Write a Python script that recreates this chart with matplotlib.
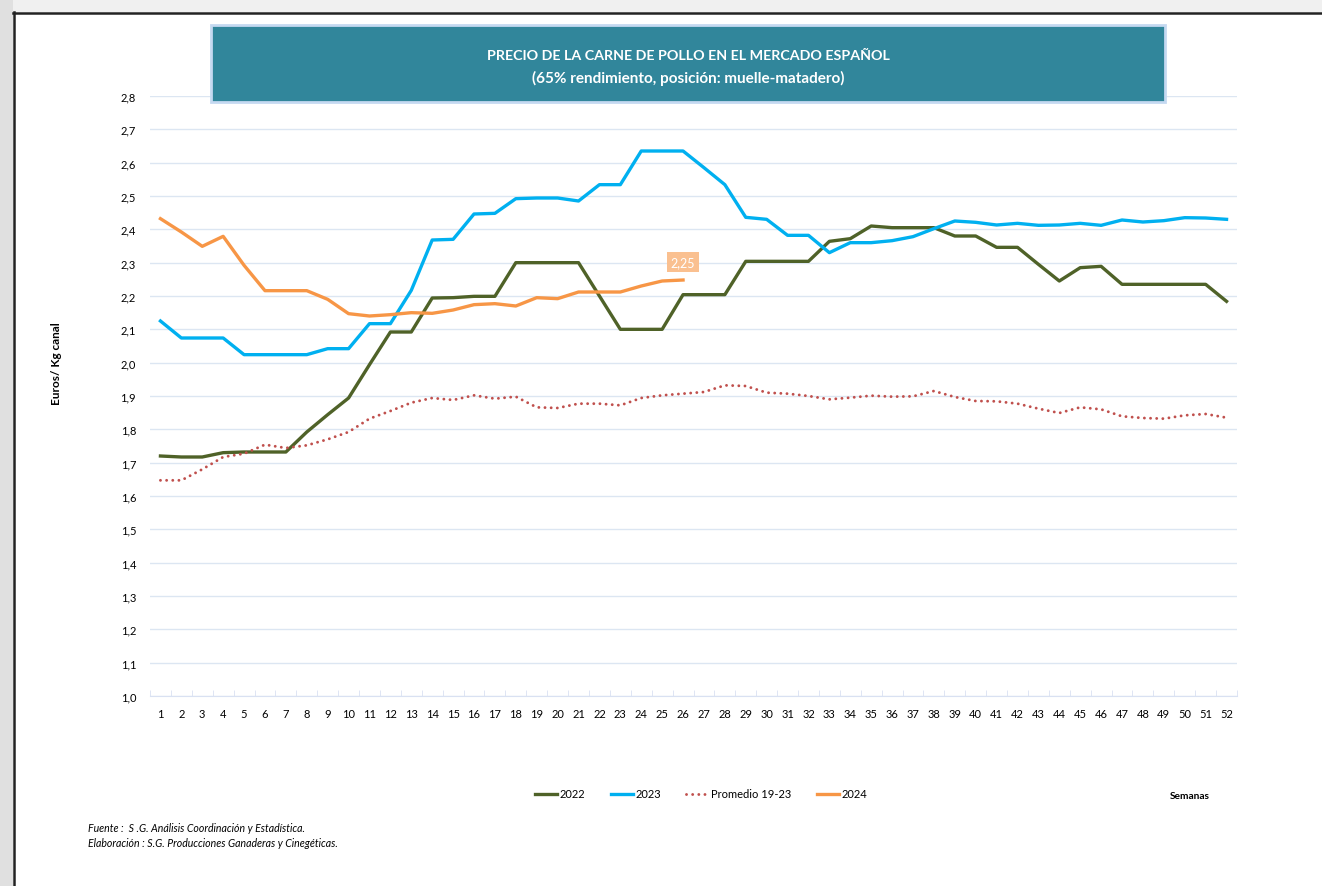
import numpy as np
import matplotlib
matplotlib.use("Agg")
import matplotlib.pyplot as plt
from matplotlib.patches import Rectangle
from matplotlib.lines import Line2D

plt.rcParams['font.family'] = ['Lato', 'DejaVu Sans']

weeks = list(range(1, 53))

p2022 = [1.720, 1.717, 1.717, 1.730, 1.732, 1.732, 1.732, 1.792, 1.844, 1.894,
         1.994, 2.092, 2.092, 2.194, 2.195, 2.199, 2.199, 2.300, 2.300, 2.300,
         2.300, 2.200, 2.100, 2.100, 2.100, 2.204, 2.204, 2.204, 2.304, 2.304,
         2.304, 2.304, 2.364, 2.372, 2.410, 2.405, 2.405, 2.405, 2.380, 2.380,
         2.346, 2.346, 2.295, 2.245, 2.285, 2.289, 2.235, 2.235, 2.235, 2.235,
         2.235, 2.184]

p2023 = [2.125, 2.074, 2.074, 2.074, 2.024, 2.024, 2.024, 2.024, 2.042, 2.042,
         2.117, 2.117, 2.217, 2.368, 2.370, 2.446, 2.448, 2.492, 2.494, 2.494,
         2.485, 2.534, 2.534, 2.635, 2.635, 2.635, 2.585, 2.534, 2.436, 2.430,
         2.382, 2.382, 2.330, 2.360, 2.360, 2.366, 2.378, 2.402, 2.425, 2.421,
         2.413, 2.418, 2.412, 2.413, 2.418, 2.412, 2.428, 2.422, 2.426, 2.435,
         2.434, 2.430]

promedio = [1.647, 1.647, 1.680, 1.717, 1.727, 1.754, 1.744, 1.752, 1.770, 1.792,
            1.832, 1.855, 1.880, 1.894, 1.888, 1.902, 1.892, 1.898, 1.866, 1.864,
            1.877, 1.877, 1.872, 1.894, 1.902, 1.907, 1.912, 1.932, 1.930, 1.910,
            1.907, 1.900, 1.890, 1.895, 1.901, 1.898, 1.899, 1.915, 1.897, 1.885,
            1.884, 1.877, 1.862, 1.849, 1.866, 1.860, 1.839, 1.834, 1.832, 1.842,
            1.846, 1.835]

p2024 = [2.432, 2.392, 2.349, 2.379, 2.292, 2.216, 2.216, 2.216, 2.190, 2.147,
         2.140, 2.144, 2.150, 2.148, 2.158, 2.174, 2.177, 2.170, 2.195, 2.192,
         2.212, 2.212, 2.212, 2.230, 2.245, 2.248]

yticks = np.round(np.arange(1.0, 2.81, 0.1), 1)

W, H = 1322, 887
fig = plt.figure(figsize=(W / 100, H / 100), dpi=100)
fig.patch.set_facecolor('white')

# page frame / grey surroundings
fig.patches.append(Rectangle((0, 1 - 13 / H), 1, 13 / H, transform=fig.transFigure,
                             facecolor='#f0f0f0', edgecolor='none', zorder=-5))
fig.patches.append(Rectangle((0, 0), 13 / W, 1, transform=fig.transFigure,
                             facecolor='#e0e0e0', edgecolor='none', zorder=-5))
fig.lines.append(Line2D([13 / W, 1], [1 - 14 / H, 1 - 14 / H], transform=fig.transFigure,
                        color='#222222', lw=1.8))
fig.lines.append(Line2D([14 / W, 14 / W], [0, 1 - 13 / H], transform=fig.transFigure,
                        color='#222222', lw=1.8))

ax = fig.add_axes([150 / W, 1 - 697 / H, (1237 - 150) / W, (697 - 97) / H])

ax.plot(weeks, p2022, color='#4f6228', lw=2.4, label='2022', solid_joinstyle='round')
ax.plot(weeks, p2023, color='#00b0f0', lw=2.4, label='2023', solid_joinstyle='round')
ax.plot(weeks, promedio, color='#c0504d', lw=2.1, ls=(0, (0.01, 2.1)),
        dash_capstyle='round', label='Promedio 19-23')
ax.plot(weeks[:len(p2024)], p2024, color='#f79646', lw=2.4, label='2024',
        solid_joinstyle='round')

ax.annotate('2,25', xy=(len(p2024), p2024[-1]), xytext=(0, 13), textcoords='offset points',
            ha='center', va='center', color='white', fontsize=9,
            bbox=dict(boxstyle='square,pad=0.3', fc='#fac090', ec='none'))

ax.set_xlim(0.5, 52.5)
ax.set_ylim(1.0, 2.8)
ax.set_yticks(yticks)
ax.set_yticklabels([f'{v:.1f}'.replace('.', ',') for v in yticks], fontsize=8)
ax.set_xticks(weeks)
ax.set_xticklabels([str(w) for w in weeks], fontsize=8)
ax.set_xticks(np.arange(0.5, 53, 1), minor=True)
ax.tick_params(axis='x', which='major', length=0, pad=9)
ax.tick_params(axis='x', which='minor', length=4, color='#d9e1f2', direction='in')
ax.tick_params(axis='y', length=0, pad=10)
ax.grid(axis='y', color='#dce6f2', lw=1)
ax.set_axisbelow(True)
for s in ['top', 'right', 'left']:
    ax.spines[s].set_visible(False)
ax.spines['bottom'].set_color('#d9e1f2')

fig.text(56 / W, 1 - 364 / H, 'Euros/ Kg canal', rotation=90, ha='center', va='center',
         fontsize=8.5, fontweight='bold')

# title box
fig.patches.append(Rectangle((211 / W, 1 - 103 / H), (1165 - 211) / W, (103 - 26) / H,
                             transform=fig.transFigure, facecolor='#31869b',
                             edgecolor='#c5d9f1', lw=2, zorder=5))
fig.text(688 / W, 1 - 56 / H, 'PRECIO DE LA CARNE DE POLLO EN EL MERCADO ESPAÑOL',
         ha='center', va='center', color='white', fontsize=10.3, fontweight='bold', zorder=6)
fig.text(688 / W, 1 - 78 / H, '(65% rendimiento, posición: muelle-matadero)',
         ha='center', va='center', color='white', fontsize=11, fontweight='bold', zorder=6)

fig.legend(loc='center', bbox_to_anchor=(701 / W, 1 - 795 / H), ncol=4, frameon=False,
           fontsize=8, handlelength=2.0, handletextpad=0.2, columnspacing=2.3)
fig.text(1190 / W, 1 - 797 / H, 'Semanas', ha='center', va='center', fontsize=7.3,
         fontweight='bold')

fig.text(88 / W, 1 - 829 / H, 'Fuente :  S .G. Análisis Coordinación y Estadística.',
         ha='left', va='center', fontsize=7.6, style='italic')
fig.text(88 / W, 1 - 844 / H, 'Elaboración : S.G. Producciones Ganaderas y Cinegéticas.',
         ha='left', va='center', fontsize=7.6, style='italic')

fig.savefig('out.png', dpi=100)
